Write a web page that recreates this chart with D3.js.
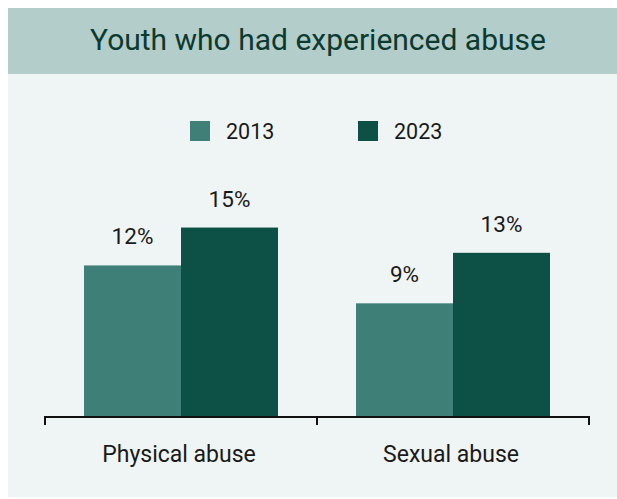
<!DOCTYPE html>
<html>
<head>
<meta charset="utf-8">
<script src="https://cdn.jsdelivr.net/npm/d3@7"></script>
<style>
  html, body { margin: 0; padding: 0; background: #ffffff; }
  svg { display: block; }
</style>
</head>
<body>
<svg id="chart" width="617" height="499"></svg>
<script>
const categories = ["Physical abuse", "Sexual abuse"];
const years = ["2013", "2023"];
const values2013 = [12, 9];
const values2023 = [15, 13];
const titleText = "Youth who had experienced abuse";

const colors = { "2013": "#3e7f78", "2023": "#0d5045" };
const seriesByYear = { "2013": values2013, "2023": values2023 };

const svg = d3.select("#chart");
const W = 617, H = 499;
const font = "Roboto, 'Noto Sans', sans-serif";

// Panel: header band + light body
svg.append("rect").attr("x", 8).attr("y", 8).attr("width", W - 8).attr("height", H - 10)
  .attr("fill", "#eff4f4");
svg.append("rect").attr("x", 8).attr("y", 8).attr("width", W - 8).attr("height", 66)
  .attr("fill", "#b2cdca");
svg.append("text").attr("x", 318).attr("y", 50).attr("text-anchor", "middle")
  .attr("font-family", font).attr("font-size", 30).attr("fill", "#0c3a30")
  .text(titleText);

// Scales
const baseY = 417;
const x0 = d3.scaleBand().domain(categories).range([45, 589]).padding(0);
const x1 = d3.scaleBand().domain(years).range([0, x0.bandwidth()]).paddingInner(0).paddingOuter(0.402);
const y = d3.scaleLinear().domain([0, 20]).range([baseY, baseY - 20 * 12.63]);

const rows = categories.map((c, i) => ({ cat: c, vals: years.map(yr => ({ year: yr, v: seriesByYear[yr][i] })) }));

const groups = svg.selectAll("g.cat").data(rows).join("g")
  .attr("class", "cat")
  .attr("transform", d => `translate(${x0(d.cat)},0)`);

groups.selectAll("rect").data(d => d.vals).join("rect")
  .attr("x", d => x1(d.year))
  .attr("y", d => y(d.v))
  .attr("width", x1.bandwidth())
  .attr("height", d => y(0) - y(d.v))
  .attr("fill", d => colors[d.year]);

groups.selectAll("text.val").data(d => d.vals).join("text")
  .attr("class", "val")
  .attr("x", d => x1(d.year) + x1.bandwidth() / 2)
  .attr("y", d => y(d.v) - 21)
  .attr("text-anchor", "middle")
  .attr("font-family", font).attr("font-size", 22.5).attr("fill", "#1a1a1a")
  .text(d => d.v + "%");

// Axis with boundary ticks
const axisG = svg.append("g");
axisG.append("line").attr("x1", 45).attr("x2", 589).attr("y1", baseY).attr("y2", baseY)
  .attr("stroke", "#111").attr("stroke-width", 2);
const boundaries = [x0.range()[0], ...categories.slice(1).map(c => x0(c)), x0.range()[1]];
axisG.selectAll("line.tick").data(boundaries).join("line")
  .attr("class", "tick")
  .attr("x1", d => d).attr("x2", d => d)
  .attr("y1", baseY - 1).attr("y2", baseY + 8)
  .attr("stroke", "#111").attr("stroke-width", 2);
axisG.selectAll("text").data(categories).join("text")
  .attr("x", d => x0(d) + x0.bandwidth() / 2 - 2)
  .attr("y", 462)
  .attr("text-anchor", "middle")
  .attr("font-family", font).attr("font-size", 23).attr("fill", "#1a1a1a")
  .text(d => d);

// Legend
const legendX = [190, 358];
const legend = svg.selectAll("g.legend").data(years).join("g")
  .attr("class", "legend")
  .attr("transform", (d, i) => `translate(${legendX[i]},121)`);
legend.append("rect").attr("width", 20).attr("height", 20).attr("fill", d => colors[d]);
legend.append("text").attr("x", 36).attr("y", 18)
  .attr("font-family", font).attr("font-size", 21.5).attr("fill", "#1a1a1a")
  .text(d => d);
</script>
</body>
</html>
